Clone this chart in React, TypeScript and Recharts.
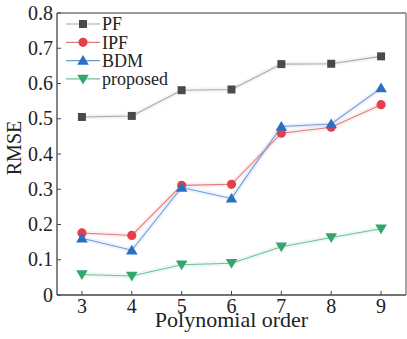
import { LineChart, Line, XAxis, YAxis, Label } from "recharts";

const orders = [3, 4, 5, 6, 7, 8, 9];
const pf = [0.505, 0.508, 0.581, 0.583, 0.655, 0.656, 0.677];
const ipf = [0.176, 0.169, 0.311, 0.314, 0.459, 0.476, 0.54];
const bdm = [0.161, 0.127, 0.305, 0.274, 0.478, 0.485, 0.587];
const proposed = [0.058, 0.054, 0.086, 0.09, 0.137, 0.163, 0.188];
const yTicks = [0, 0.1, 0.2, 0.3, 0.4, 0.5, 0.6, 0.7, 0.8];

const data = orders.map((o, i) => ({
  order: o,
  pf: pf[i],
  ipf: ipf[i],
  bdm: bdm[i],
  proposed: proposed[i],
}));

type Shape = "square" | "circle" | "up" | "down";

const series: { key: string; name: string; line: string; mark: string; shape: Shape }[] = [
  { key: "pf", name: "PF", line: "#a8a8a8", mark: "#4a4a4a", shape: "square" },
  { key: "ipf", name: "IPF", line: "#e07a80", mark: "#e5404a", shape: "circle" },
  { key: "bdm", name: "BDM", line: "#6a9ad6", mark: "#2a6fc2", shape: "up" },
  { key: "proposed", name: "proposed", line: "#6cc29a", mark: "#35a56e", shape: "down" },
];

const font = "Liberation Serif";
const axisColor = "#444";
const frameColor = "#777";

function marker(shape: Shape, color: string, cx: number, cy: number, key?: any) {
  if (shape === "square")
    return <rect key={key} x={cx - 4} y={cy - 4} width={8} height={8} fill={color} />;
  if (shape === "circle") return <circle key={key} cx={cx} cy={cy} r={4.6} fill={color} />;
  if (shape === "up")
    return (
      <polygon
        key={key}
        points={`${cx},${cy - 5.5} ${cx - 5.8},${cy + 4.2} ${cx + 5.8},${cy + 4.2}`}
        fill={color}
      />
    );
  return (
    <polygon
      key={key}
      points={`${cx - 5.8},${cy - 4.2} ${cx + 5.8},${cy - 4.2} ${cx},${cy + 5.5}`}
      fill={color}
    />
  );
}

// tickSize 0, tickMargin 4 -> x sits 4px left of the axis line
function YTick(p: any) {
  const ax = p.x + 4;
  return (
    <g>
      <line x1={ax} x2={ax + 4} y1={p.y} y2={p.y} stroke={axisColor} />
      <text
        x={p.x}
        y={p.y}
        dy="0.33em"
        textAnchor="end"
        fontFamily={font}
        fontSize={20}
        fill="#222"
      >
        {p.payload.value}
      </text>
    </g>
  );
}

// tickSize 0, tickMargin 5 -> y sits 5px below the axis line
function XTick(p: any) {
  const ay = p.y - 5;
  return (
    <g>
      <line x1={p.x} x2={p.x} y1={ay} y2={ay - 4} stroke={axisColor} />
      <text
        x={p.x}
        y={ay + 17.5}
        textAnchor="middle"
        fontFamily={font}
        fontSize={20}
        fill="#222"
      >
        {p.payload.value}
      </text>
    </g>
  );
}

function LegendBox() {
  return (
    <svg width={130} height={80} style={{ position: "absolute", left: 62, top: 14 }}>
      {series.map((s, i) => {
        const y = 10 + i * 18.3;
        return (
          <g key={s.key}>
            <line x1={4} x2={38} y1={y} y2={y} stroke={s.line} strokeWidth={1.2} />
            {marker(s.shape, s.mark, 21, y)}
            <text x={40} y={y} dy="0.35em" fontFamily={font} fontSize={18} fill="#222">
              {s.name}
            </text>
          </g>
        );
      })}
    </svg>
  );
}

export default function App() {
  return (
    <div
      style={{
        position: "fixed",
        left: 0,
        top: 0,
        width: 407,
        height: 339,
        background: "#fff",
      }}
    >
      <LineChart
        width={407}
        height={339}
        data={data}
        margin={{ top: 12, right: 0, bottom: 0, left: 0 }}
      >
        <XAxis
          xAxisId="b"
          dataKey="order"
          type="number"
          domain={[2.5, 9.5]}
          ticks={orders}
          interval={0}
          height={44}
          stroke={axisColor}
          strokeWidth={1.3}
          tickSize={0}
          tickMargin={5}
          tickLine={false}
          tick={XTick}
        >
          <Label
            content={(lp: any) => {
              const vb = lp.viewBox;
              return (
                <text
                  x={vb.x + vb.width / 2}
                  y={vb.y + vb.height - 12}
                  textAnchor="middle"
                  fontFamily={font}
                  fontSize={22}
                  fill="#222"
                >
                  Polynomial order
                </text>
              );
            }}
          />
        </XAxis>
        <XAxis
          xAxisId="t"
          orientation="top"
          dataKey="order"
          type="number"
          domain={[2.5, 9.5]}
          height={1}
          stroke={frameColor}
          strokeWidth={1.3}
          tick={false}
          tickLine={false}
        />
        <YAxis
          yAxisId="l"
          domain={[0, 0.8]}
          ticks={yTicks}
          interval={0}
          width={57}
          stroke={axisColor}
          strokeWidth={1.3}
          tickSize={0}
          tickMargin={4}
          tickLine={false}
          tick={YTick}
        >
          <Label
            content={() => (
              <text
                x={14}
                y={148}
                transform="rotate(-90 14 148)"
                textAnchor="middle"
                dominantBaseline="central"
                fontFamily={font}
                fontSize={20}
                fill="#222"
              >
                RMSE
              </text>
            )}
          />
        </YAxis>
        <YAxis
          yAxisId="r"
          orientation="right"
          domain={[0, 0.8]}
          width={1}
          stroke={frameColor}
          strokeWidth={1.3}
          tick={false}
          tickLine={false}
        />
        {series.map((s) => (
          <Line
            key={s.key + "-halo"}
            xAxisId="b"
            yAxisId="l"
            dataKey={s.key}
            stroke={s.line}
            strokeWidth={5}
            strokeOpacity={0.12}
            type="linear"
            dot={false}
            activeDot={false}
            legendType="none"
            isAnimationActive={false}
          />
        ))}
        {series.map((s) => (
          <Line
            key={s.key}
            xAxisId="b"
            yAxisId="l"
            dataKey={s.key}
            name={s.name}
            stroke={s.line}
            strokeWidth={1.1}
            type="linear"
            isAnimationActive={false}
            dot={(p: any) => marker(s.shape, s.mark, p.cx, p.cy, p.index)}
          />
        ))}
      </LineChart>
      <LegendBox />
    </div>
  );
}
